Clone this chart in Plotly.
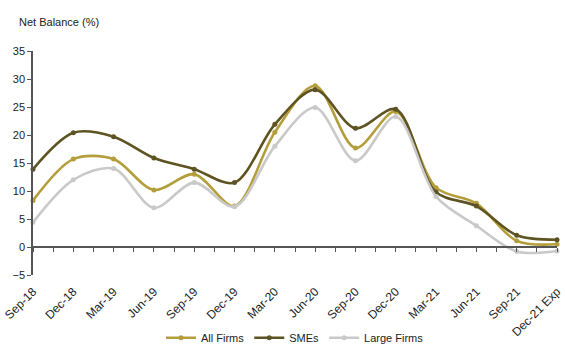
import plotly.graph_objects as go

quarters = ["Sep-18", "Dec-18", "Mar-19", "Jun-19", "Sep-19", "Dec-19", "Mar-20",
            "Jun-20", "Sep-20", "Dec-20", "Mar-21", "Jun-21", "Sep-21", "Dec-21 Exp"]

all_firms = [8.3, 15.7, 15.7, 10.2, 13.0, 7.3, 20.5, 28.8, 17.7, 24.2, 10.6, 7.8, 1.1, 0.5]
smes = [13.9, 20.4, 19.7, 15.9, 13.9, 11.5, 21.9, 28.1, 21.2, 24.6, 9.8, 7.3, 2.1, 1.3]
large_firms = [4.4, 12.0, 14.0, 7.0, 11.5, 7.2, 18.0, 24.9, 15.4, 23.3, 9.0, 3.8, -0.8, -0.7]

series = [
    ("All Firms", all_firms, "#B49E3C"),
    ("SMEs", smes, "#5E5322"),
    ("Large Firms", large_firms, "#C9C9C9"),
]

idx = list(range(len(quarters)))
font = "Liberation Sans, Arial, sans-serif"

fig = go.Figure()
for name, vals, color in series:
    fig.add_trace(go.Scatter(
        x=idx, y=vals, name=name, mode="lines+markers",
        line=dict(color=color, width=2.6, shape="spline", smoothing=0.9),
        marker=dict(color=color, size=5),
        cliponaxis=False,
    ))

fig.update_layout(
    width=565, height=363,
    margin=dict(l=33, r=1, t=51, b=88),
    paper_bgcolor="white", plot_bgcolor="white",
    font=dict(family=font, size=11, color="#222"),
    showlegend=True,
    legend=dict(orientation="h", x=0.5, xanchor="center", y=-0.28, yanchor="middle",
                font=dict(size=11), itemwidth=30, traceorder="normal"),
    xaxis=dict(
        range=[0, 13.0001], tickvals=idx, ticktext=quarters, tickangle=-45,
        showline=False, showgrid=False, zeroline=False,
        ticks="outside", ticklen=4, tickcolor="rgba(0,0,0,0)",
        tickfont=dict(size=12), ticklabeloverflow="allow",
    ),
    xaxis2=dict(
        overlaying="x", matches="x", anchor="free", position=0.125,
        showline=True, linecolor="#555", linewidth=1.5,
        showgrid=False, zeroline=False, showticklabels=False,
        tickvals=idx, ticks="outside", ticklen=4, tickcolor="#555",
        minor=dict(tickvals=[i + 0.5 for i in idx[:-1]], ticks="outside",
                   ticklen=4, tickcolor="#555"),
    ),
    yaxis=dict(
        range=[-5, 35], dtick=5, showline=True, linecolor="#555", linewidth=1.5,
        ticks="outside", ticklen=4, tickcolor="#555", showgrid=False,
        zeroline=False, tickfont=dict(size=11),
    ),
    annotations=[dict(
        text="Net Balance (%)", xref="paper", yref="paper", x=-0.03, y=1.0,
        yshift=29, xanchor="left", yanchor="middle", showarrow=False,
        font=dict(size=11, color="#222"),
    )],
)

# invisible trace so the zero-crossing axis is drawn
fig.add_trace(go.Scatter(x=[0], y=[0], xaxis="x2", mode="markers",
                         marker=dict(opacity=0), showlegend=False, hoverinfo="skip"))

fig.write_html("out.html")
